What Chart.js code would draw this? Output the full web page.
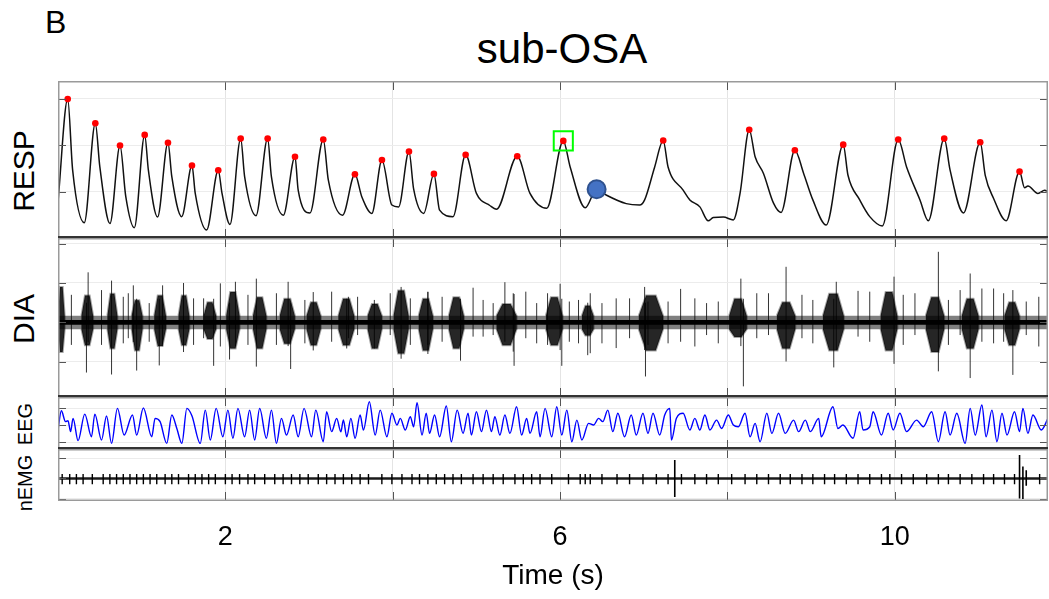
<!DOCTYPE html>
<html>
<head>
<meta charset="utf-8">
<script src="https://cdn.jsdelivr.net/npm/chart.js@4.4.1/dist/chart.umd.min.js"></script>
<style>
  html, body { margin: 0; padding: 0; background: #fff; }
  body { width: 1049px; height: 599px; position: relative; overflow: hidden;
         font-family: "Liberation Sans", Arial, sans-serif; color: #000; }
  canvas { position: absolute; left: 58px; }
  .txt { position: absolute; white-space: nowrap; line-height: 1; }
  .ylab { position: absolute; white-space: nowrap; line-height: 1;
          transform: translate(-50%, -50%) rotate(-90deg); }
</style>
</head>
<body>
<div class="txt" style="left:45px; top:6px; font-size:32px;">B</div>
<div class="txt" style="left:362px; width:400px; text-align:center; top:28px; font-size:42px;">sub-OSA</div>
<div class="ylab" style="left:24px; top:171px; font-size:30px;">RESP</div>
<div class="ylab" style="left:24px; top:319px; font-size:30px;">DIA</div>
<div class="ylab" style="left:25px; top:424px; font-size:20px;">EEG</div>
<div class="ylab" style="left:25px; top:483px; font-size:20px;">nEMG</div>

<canvas id="cResp" width="990" height="157" style="top:81px"></canvas>
<canvas id="cDia" width="990" height="159" style="top:238px"></canvas>
<canvas id="cEeg" width="990" height="52" style="top:397px"></canvas>
<canvas id="cEmg" width="990" height="150" style="top:449px"></canvas>

<script>
// time axis (s)
const T_MAX = 11.83;
const xGrid = [0, 2, 4, 6, 8, 10];
const xLabels = [2, 6, 10];

// respiration trace [t, value]
const respTrace = [
  [0.00,0.78],[0.116,2.99],[0.175,1.46],[0.314,0.33],[0.446,2.47],[0.50,1.53],[0.621,0.31],
  [0.741,1.99],[0.81,0.89],[0.912,0.22],[1.036,2.22],[1.08,1.46],[1.19,0.45],[1.314,2.05],
  [1.36,1.32],[1.478,0.46],[1.601,1.56],[1.64,0.96],[1.776,0.17],[1.915,1.46],[1.96,0.96],
  [2.055,0.29],[2.183,2.14],[2.23,1.32],[2.366,0.48],[2.505,2.14],[2.55,1.32],[2.692,0.49],
  [2.832,1.75],[2.87,1.03],[3.011,0.54],[3.170,2.12],[3.23,1.25],[3.40,0.49],[3.548,1.37],
  [3.63,0.89],[3.75,0.53],[3.871,1.68],[3.99,0.71],[4.07,0.67],[4.194,1.86],[4.25,1.05],
  [4.37,0.53],[4.492,1.38],[4.56,0.60],[4.72,0.46],[4.871,1.79],[5.00,0.96],[5.16,0.70],
  [5.24,0.62],[5.488,1.76],[5.64,0.96],[5.84,0.64],[6.038,2.09],[6.12,1.53],[6.30,0.65],
  [6.436,1.05],[6.556,0.92],[6.79,0.74],[6.95,0.71],[7.01,0.82],[7.13,1.53],[7.232,2.10],
  [7.29,1.53],[7.47,1.03],[7.55,0.82],[7.67,0.67],[7.77,0.37],[7.83,0.44],[7.95,0.45],
  [8.07,0.39],[8.15,0.96],[8.26,2.33],[8.33,1.75],[8.43,1.39],[8.55,0.75],[8.64,0.55],
  [8.805,1.89],[8.91,1.39],[9.02,0.82],[9.18,0.28],[9.383,2.01],[9.44,1.35],[9.58,0.82],
  [9.70,0.46],[9.85,0.26],[10.04,2.12],[10.14,1.53],[10.30,0.82],[10.40,0.37],[10.59,2.14],
  [10.66,1.46],[10.82,0.54],[11.02,2.06],[11.08,1.35],[11.18,0.85],[11.33,0.37],[11.49,1.43],
  [11.55,1.08],[11.59,1.12],[11.71,0.96],[11.79,1.03],[11.83,1.00]
];
// detected inspiratory peaks [t, value]
const respPeaks = [
  [0.116,2.99],[0.446,2.47],[0.741,1.99],[1.036,2.22],[1.314,2.05],[1.601,1.56],[1.915,1.46],
  [2.183,2.14],[2.505,2.14],[2.832,1.75],[3.170,2.12],[3.548,1.37],[3.871,1.68],[4.194,1.86],
  [4.492,1.38],[4.871,1.79],[5.488,1.76],[6.038,2.09],[7.232,2.10],[8.26,2.33],[8.805,1.89],
  [9.383,2.01],[10.04,2.12],[10.59,2.14],[11.02,2.06],[11.49,1.43]
];
const markedPeak = 17;          // boxed breath
const apneaMark = [6.436, 1.05]; // apnea onset

// diaphragm EMG: baseline noise half-width, bursts and spikes
const diaNoise = 0.17;
const diaCore = 0.06;
const burstStart  = [0.00,0.28,0.59,0.88,1.15,1.44,1.74,2.01,2.33,2.65,2.97,3.35,3.70,4.01,4.31,4.67,5.24,5.83,6.26,6.94,8.02,8.59,9.14,9.83,10.37,10.80,11.31];
const burstEnd    = [0.08,0.42,0.71,1.01,1.29,1.57,1.89,2.17,2.49,2.83,3.14,3.54,3.87,4.19,4.48,4.85,5.48,6.03,6.40,7.23,8.23,8.81,9.39,10.03,10.59,11.00,11.49];
const burstTop    = [0.90,0.68,0.73,0.56,0.68,0.68,0.51,0.77,0.64,0.60,0.51,0.60,0.47,0.81,0.60,0.64,0.47,0.64,0.42,0.68,0.60,0.51,0.73,0.77,0.64,0.60,0.51];
const burstBottom = [-0.75,-0.58,-0.66,-0.71,-0.60,-0.58,-0.42,-0.66,-0.66,-0.54,-0.58,-0.58,-0.66,-0.79,-0.71,-0.66,-0.58,-0.58,-0.33,-0.71,-0.37,-0.66,-0.71,-0.71,-0.75,-0.66,-0.58];
// [t, up, down]
const diaSpikes = [
  [0.16,0.70,-0.57],[0.52,0.82,-0.57],[0.78,0.65,-0.53],[0.84,0.74,-0.40],[1.09,0.49,-0.49],
  [1.62,0.61,-0.57],[1.74,0.61,-0.40],[1.94,0.99,-0.61],[2.27,0.70,-0.57],[2.61,0.74,-0.57],
  [2.95,0.57,-0.53],[3.27,0.78,-0.49],[3.47,0.65,-0.40],
  [0.36,1.27,-0.50],[0.34,0.50,-1.27],[0.64,1.06,-1.32],[0.94,0.60,-1.22],[0.90,0.94,-0.50],
  [1.25,0.94,-0.60],[1.21,0.60,-1.09],[1.50,1.00,-0.75],[1.86,0.60,-1.10],[2.12,1.03,-0.60],
  [2.05,0.50,-0.94],[2.37,1.11,-1.12],[2.75,1.03,-0.60],[2.78,0.50,-1.18],[3.05,0.77,-0.71],
  [3.45,0.60,-0.66],
  [3.58,0.65,-0.32],[3.97,0.74,-0.32],[4.21,0.61,-0.57],[4.42,0.78,-0.57],[4.59,0.65,-0.49],
  [4.96,0.88,-0.36],[5.08,0.57,-0.36],[5.20,0.49,-0.32],[5.34,1.02,-0.49],[5.44,0.74,-0.74],
  [5.59,0.78,-0.40],[5.72,0.49,-0.53],[5.85,0.74,-0.57],[6.11,0.53,-0.49],[6.22,0.57,-0.53],
  [6.36,0.74,-0.78],[6.50,0.49,-0.53],[6.67,0.61,-0.65],[6.83,0.61,-0.40],[7.05,0.53,-0.57],
  [7.29,0.53,-0.53],[7.44,0.85,-0.49],[7.61,0.61,-0.61],
  [3.78,0.57,-0.66],[4.10,0.90,-0.92],[4.42,0.77,-0.80],[4.81,0.60,-0.97],[5.45,0.72,-1.10],
  [6.00,0.98,-0.70],[6.02,0.60,-1.10],[6.33,0.50,-0.83],[7.01,0.90,-0.70],[7.02,0.50,-1.37],
  [7.75,0.49,-0.32],[7.89,0.53,-0.53],[8.35,0.74,-0.40],[8.49,0.74,-0.32],[8.89,0.70,-0.40],
  [9.02,0.57,-0.53],[9.56,0.80,-0.36],[9.70,0.78,-0.49],[10.10,0.70,-0.57],[10.24,0.74,-0.32],
  [10.64,0.57,-0.57],[10.78,0.82,-0.32],[11.04,0.86,-0.49],[11.18,0.86,-0.53],[11.30,0.74,-0.49],
  [11.57,0.53,-0.32],[11.72,0.65,-0.61],
  [8.16,1.11,-0.60],[8.19,0.60,-1.62],[8.70,1.41,-0.99],[9.30,1.03,-0.70],[9.27,0.60,-1.14],
  [9.99,1.16,-1.05],[10.52,1.79,-1.24],[10.90,1.24,-1.41],[11.41,0.82,-1.33]
];

// EEG turning points [t, value]
const eegTrace = [
  [0.00,-0.29],[0.04,0.84],[0.09,0.20],[0.12,0.25],[0.15,-0.39],[0.18,0.39],[0.24,-0.92],[0.32,0.64],
  [0.40,-0.69],[0.44,0.64],[0.52,-0.88],[0.58,0.53],[0.64,-1.08],[0.71,0.98],[0.79,-0.59],[0.89,0.59],
  [0.94,-0.59],[1.02,1.00],[1.12,-0.69],[1.16,0.39],[1.22,0.20],[1.30,-1.08],[1.36,0.59],[1.42,-0.20],
  [1.48,-1.08],[1.54,0.98],[1.60,0.55],[1.70,-1.08],[1.76,0.88],[1.82,-0.88],[1.89,0.98],[1.97,-0.69],
  [2.03,0.88],[2.09,-0.78],[2.15,0.98],[2.23,-0.69],[2.29,0.88],[2.35,-0.88],[2.41,0.98],[2.49,-0.78],
  [2.55,0.88],[2.61,-1.08],[2.67,0.39],[2.73,-0.59],[2.81,0.59],[2.87,-0.69],[2.94,0.98],[3.03,-0.69],
  [3.08,0.88],[3.17,-0.98],[3.21,0.78],[3.27,-0.39],[3.33,0.39],[3.38,-0.40],[3.41,0.30],[3.45,-0.69],
  [3.50,0.39],[3.55,-0.78],[3.61,0.59],[3.65,-0.30],[3.72,1.37],[3.79,-0.59],[3.85,0.88],[3.93,-0.69],
  [3.99,0.69],[4.05,0.00],[4.09,0.39],[4.15,-0.29],[4.21,0.49],[4.25,-0.10],[4.29,1.31],[4.35,-0.59],
  [4.40,0.69],[4.44,-0.49],[4.50,0.59],[4.56,-0.69],[4.64,1.12],[4.70,-0.98],[4.77,0.88],[4.84,-0.49],
  [4.90,0.69],[4.94,-0.59],[5.00,0.78],[5.06,-0.39],[5.12,0.88],[5.18,-0.39],[5.22,0.49],[5.28,-0.59],
  [5.34,0.59],[5.40,-0.49],[5.48,1.08],[5.54,-0.59],[5.60,0.39],[5.64,-0.49],[5.72,0.78],[5.76,-0.69],
  [5.82,0.98],[5.90,-0.69],[5.96,1.08],[6.02,-0.59],[6.08,0.88],[6.14,-0.98],[6.20,0.29],[6.26,-0.88],
  [6.34,0.10],[6.40,0.00],[6.46,0.39],[6.51,0.20],[6.57,0.88],[6.63,-0.39],[6.69,0.69],[6.77,-0.69],
  [6.85,0.59],[6.91,-0.59],[6.99,0.69],[7.05,-0.49],[7.11,0.69],[7.19,-0.59],[7.25,0.59],[7.31,0.98],
  [7.33,-0.88],[7.39,0.40],[7.47,0.69],[7.55,-0.29],[7.61,0.39],[7.67,-0.29],[7.73,0.59],[7.79,-0.29],
  [7.87,0.29],[7.93,-0.20],[8.01,0.59],[8.07,0.00],[8.13,-0.10],[8.21,0.69],[8.27,-0.69],[8.33,0.10],
  [8.39,-0.98],[8.47,0.69],[8.53,-0.49],[8.61,0.69],[8.69,-0.49],[8.79,0.29],[8.85,-0.39],[8.93,0.29],
  [8.99,-0.39],[9.09,0.39],[9.12,-0.69],[9.26,1.08],[9.32,-0.20],[9.38,0.00],[9.50,-0.78],[9.58,0.78],
  [9.62,-0.29],[9.70,-0.10],[9.74,0.78],[9.84,-0.59],[9.92,0.69],[9.98,-0.29],[10.06,0.69],[10.14,-0.39],
  [10.26,0.29],[10.34,-0.10],[10.44,0.78],[10.52,-0.98],[10.60,0.78],[10.66,-0.59],[10.74,0.69],[10.84,-1.08],
  [10.90,0.98],[10.96,-0.59],[11.04,1.18],[11.09,-0.69],[11.16,0.88],[11.22,-0.98],[11.28,0.69],[11.34,-0.59],
  [11.43,0.78],[11.49,-0.39],[11.53,0.98],[11.59,-0.49],[11.65,0.59],[11.75,-0.29],[11.83,0.39]
];

// neck EMG: ECG artefact times and the larger deflections
const emgBeats = [
  0.05,0.14,0.22,0.30,0.41,0.54,0.62,0.70,0.78,0.86,0.94,1.02,1.10,1.18,1.28,1.36,1.44,1.56,1.64,1.72,
  1.80,1.88,2.00,2.08,2.17,2.27,2.35,2.47,2.59,2.69,2.79,2.89,2.99,3.11,3.21,3.31,3.41,3.51,3.61,3.71,
  3.87,3.99,4.11,4.23,4.32,4.42,4.52,4.62,4.72,4.82,4.96,5.08,5.20,5.32,5.46,5.56,5.66,5.76,5.90,6.10,
  6.24,6.30,6.36,6.50,6.68,6.83,6.99,7.15,7.29,7.45,7.61,7.75,7.89,8.05,8.21,8.35,8.49,8.63,8.75,8.89,
  9.02,9.16,9.28,9.42,9.56,9.70,9.84,9.94,10.08,10.22,10.38,10.52,10.64,10.78,10.92,11.06,11.18,11.31,
  11.43,11.73
];
const emgBeatUp = 0.22;
const emgBeatDown = -0.28;
const emgLarge = [[7.37,0.90,-0.90],[11.49,1.15,-0.98],[11.53,0.58,-1.00],[11.57,0.40,-0.35]];

// ---------------------------------------------------------------
Chart.defaults.font.family = "'Liberation Sans', Arial, sans-serif";
Chart.defaults.color = '#000';

const pts = arr => arr.map(([x, y]) => ({ x, y }));
const segments = items => {
  const out = [];
  items.forEach(([t, up, down]) => out.push({ x: t, y: down }, { x: t, y: up }, { x: t, y: null }));
  return out;
};
const rectShape = (h) => [{x:0,y:h},{x:T_MAX,y:h},{x:T_MAX,y:-h},{x:0,y:-h}];

// frame, MATLAB-style inner tick marks and panel separators
const panelFrame = {
  id: 'panelFrame',
  afterDraw(chart, args, opts) {
    const { ctx, chartArea: a, scales } = chart;
    ctx.save();
    ctx.strokeStyle = '#555';
    ctx.lineWidth = 1;
    ctx.beginPath();
    xGrid.forEach(v => {
      const px = Math.round(scales.x.getPixelForValue(v)) + 0.5;
      ctx.moveTo(px, a.top); ctx.lineTo(px, a.top + 9);
      ctx.moveTo(px, a.bottom); ctx.lineTo(px, a.bottom - 9);
    });
    (opts.yTicks || []).forEach(v => {
      const py = Math.round(scales.y.getPixelForValue(v)) + 0.5;
      ctx.moveTo(a.left, py); ctx.lineTo(a.left + 8, py);
      ctx.moveTo(a.right, py); ctx.lineTo(a.right - 8, py);
    });
    ctx.stroke();
    ctx.strokeStyle = '#9a9a9a';
    ctx.lineWidth = 1.5;
    ctx.strokeRect(a.left + 0.75, a.top + 0.75, a.width - 1.5, a.height - 1.5);
    if (opts.darkBottom) {
      ctx.strokeStyle = '#333';
      ctx.lineWidth = 2;
      ctx.beginPath();
      ctx.moveTo(a.left, a.bottom - 1); ctx.lineTo(a.right, a.bottom - 1);
      ctx.stroke();
    }
    ctx.restore();
  }
};

function panelOptions(yMin, yMax, yTicks, frame, withTimeAxis) {
  return {
    responsive: false,
    animation: false,
    devicePixelRatio: 1,
    layout: { padding: 0, autoPadding: false },
    plugins: {
      legend: { display: false },
      tooltip: { enabled: false },
      panelFrame: Object.assign({ yTicks }, frame)
    },
    elements: { point: { radius: 0 } },
    scales: {
      x: {
        type: 'linear', min: 0, max: T_MAX,
        afterBuildTicks: s => { s.ticks = xGrid.map(v => ({ value: v })); },
        afterFit: s => { s.height = withTimeAxis ? 98 : 0; s.paddingLeft = 0; s.paddingRight = 0; },
        grid: { color: '#e4e4e4', drawTicks: false },
        border: { display: false },
        ticks: {
          display: withTimeAxis, autoSkip: false, maxRotation: 0, padding: 20,
          font: { size: 27 }, color: '#000',
          callback: v => (xLabels.includes(v) ? String(v) : '')
        },
        title: {
          display: withTimeAxis, text: 'Time (s)', color: '#000',
          font: { size: 28 }, padding: { top: 0, bottom: 6 }
        }
      },
      y: {
        min: yMin, max: yMax,
        afterBuildTicks: s => { s.ticks = yTicks.map(v => ({ value: v })); },
        afterFit: s => { s.width = 0; s.paddingTop = 0; s.paddingBottom = 0; },
        grid: { color: '#ececec', drawTicks: false },
        border: { display: false },
        ticks: { display: false }
      }
    }
  };
}

// RESP
new Chart(document.getElementById('cResp'), {
  type: 'line',
  data: {
    datasets: [
      { data: [{ x: respPeaks[markedPeak][0], y: respPeaks[markedPeak][1] }], showLine: false,
        pointStyle: 'rect', pointRadius: 13.5, pointBorderWidth: 2,
        pointBorderColor: '#00ff00', pointBackgroundColor: 'rgba(0,0,0,0)', order: 0 },
      { data: [{ x: apneaMark[0], y: apneaMark[1] }], showLine: false,
        pointRadius: 9, pointBorderWidth: 2,
        pointBorderColor: '#2f528f', pointBackgroundColor: '#4472c4', order: 0 },
      { data: pts(respPeaks), showLine: false, pointRadius: 3.3, pointBorderWidth: 0,
        pointBackgroundColor: '#ff0000', pointBorderColor: '#ff0000', order: 1 },
      { data: pts(respTrace), borderColor: '#111', borderWidth: 1.5,
        cubicInterpolationMode: 'monotone', pointRadius: 0, order: 2 }
    ]
  },
  options: panelOptions(0, 3.38, [0, 1, 2, 3], { darkBottom: true }, false),
  plugins: [panelFrame]
});

// DIA
const burstSets = burstStart.map((t0, i) => {
  const t1 = burstEnd[i], w = t1 - t0;
  return {
    data: [
      { x: t0, y: diaNoise }, { x: t0 + w * 0.3, y: burstTop[i] }, { x: t1 - w * 0.3, y: burstTop[i] },
      { x: t1, y: diaNoise }, { x: t1, y: -diaNoise }, { x: t1 - w * 0.3, y: burstBottom[i] },
      { x: t0 + w * 0.3, y: burstBottom[i] }, { x: t0, y: -diaNoise }
    ],
    borderColor: 'rgba(0,0,0,0.35)', backgroundColor: 'rgba(0,0,0,0.85)', borderWidth: 2,
    fill: 'shape', tension: 0, pointRadius: 0, order: 2
  };
});
new Chart(document.getElementById('cDia'), {
  type: 'line',
  data: {
    datasets: [
      { data: segments(diaSpikes), borderColor: 'rgba(0,0,0,0.8)', borderWidth: 1,
        pointRadius: 0, spanGaps: false, order: 1 },
      ...burstSets,
      { data: rectShape(diaCore), borderWidth: 0, backgroundColor: '#000', fill: 'shape', pointRadius: 0, order: 3 },
      { data: rectShape(diaNoise), borderWidth: 0, backgroundColor: 'rgba(0,0,0,0.5)', fill: 'shape', pointRadius: 0, order: 4 }
    ]
  },
  options: panelOptions(-1.89, 2.14, [-1, 0, 1, 2], { darkBottom: true }, false),
  plugins: [panelFrame]
});

// EEG
new Chart(document.getElementById('cEeg'), {
  type: 'line',
  data: {
    datasets: [
      { data: pts(eegTrace), borderColor: '#0000ff', borderWidth: 1.4,
        cubicInterpolationMode: 'monotone', pointRadius: 0 }
    ]
  },
  options: panelOptions(-1.41, 1.65, [-1, 0, 1], { darkBottom: true }, false),
  plugins: [panelFrame]
});

// nEMG
new Chart(document.getElementById('cEmg'), {
  type: 'line',
  data: {
    datasets: [
      { data: segments(emgLarge), borderColor: '#000', borderWidth: 1.6, pointRadius: 0, spanGaps: false, order: 0 },
      { data: segments(emgBeats.map(t => [t, emgBeatUp, emgBeatDown])), borderColor: '#000',
        borderWidth: 1.4, pointRadius: 0, spanGaps: false, order: 1 },
      { data: [{ x: 0, y: 0 }, { x: T_MAX, y: 0 }], borderColor: '#1a1a1a', borderWidth: 2.5, pointRadius: 0, order: 2 }
    ]
  },
  options: panelOptions(-1.10, 1.44, [-1, 0, 1], {}, true),
  plugins: [panelFrame]
});
</script>
</body>
</html>
